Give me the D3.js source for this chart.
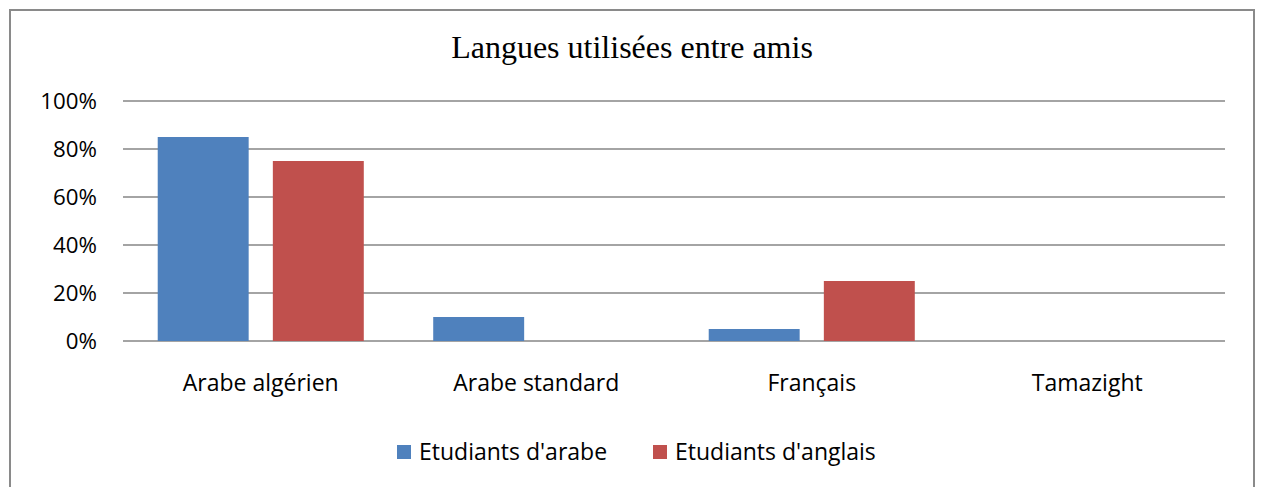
<!DOCTYPE html>
<html><head><meta charset="utf-8">
<script src="https://cdn.jsdelivr.net/npm/d3@7"></script>
<style>body{margin:0;background:#fff}svg{display:block}</style>
</head><body><svg id="c" width="1261" height="487"></svg>
<script>
const categories = ["Arabe algérien", "Arabe standard", "Français", "Tamazight"];
const seriesNames = ["Etudiants d'arabe", "Etudiants d'anglais"];
const etudiantsArabe = [0.85, 0.10, 0.05, 0];
const etudiantsAnglais = [0.75, 0, 0.25, 0];
const yTicks = [0, 0.2, 0.4, 0.6, 0.8, 1.0];
const colors = ["#4f81bd", "#c0504d"];
const title = "Langues utilisées entre amis";

const svg = d3.select("#c");
svg.append("rect").attr("x", 10).attr("y", 10).attr("width", 1244).attr("height", 490)
  .attr("fill", "#fff").attr("stroke", "#8a8a8a").attr("stroke-width", 2);

const mL = 123, mR = 1225, mT = 101, mB = 341;
const x0 = d3.scaleBand().domain(categories).range([mL, mR]).paddingInner(0.252).paddingOuter(0.126);
const x1 = d3.scaleBand().domain(seriesNames).range([0, x0.bandwidth()]).paddingInner(0.21);
const y = d3.scaleLinear().domain([0, 1]).range([mB, mT]);

svg.append("text").attr("x", 632).attr("y", 58).attr("text-anchor", "middle")
  .attr("font-family", "Liberation Serif, Times New Roman, serif").attr("font-size", 32)
  .attr("fill", "#000").text(title);

const yAxis = d3.axisLeft(y).tickValues(yTicks).tickFormat(d3.format(".0%")).tickSize(0).tickPadding(26);
const gy = svg.append("g").attr("transform", `translate(${mL},0)`).call(yAxis);
gy.select(".domain").remove();
gy.selectAll("text").attr("font-family", "Open Sans, sans-serif").attr("font-size", 22.3).attr("fill", "#000");

svg.append("g").selectAll("line").data(yTicks).join("line")
  .attr("x1", mL).attr("x2", mR).attr("y1", d => y(d)).attr("y2", d => y(d))
  .attr("stroke", "#868686").attr("stroke-width", 1.5);

const data = categories.map((c, i) => ({c, vals: [etudiantsArabe[i], etudiantsAnglais[i]]}));
const groups = svg.append("g").selectAll("g").data(data).join("g")
  .attr("transform", d => `translate(${x0(d.c)},0)`);
groups.selectAll("rect").data(d => d.vals.map((v, k) => ({v, k})).filter(e => e.v > 0)).join("rect")
  .attr("x", e => x1(seriesNames[e.k])).attr("width", x1.bandwidth())
  .attr("y", e => y(e.v)).attr("height", e => y(0) - y(e.v))
  .attr("fill", e => colors[e.k]);

const xAxis = d3.axisBottom(x0).tickSize(0).tickPadding(34);
const gx = svg.append("g").attr("transform", `translate(0,${mB})`).call(xAxis);
gx.select(".domain").remove();
gx.selectAll("text").attr("font-family", "Open Sans, sans-serif").attr("font-size", 23).attr("fill", "#000");

const legendX = [397, 653];
const lg = svg.append("g").selectAll("g").data(seriesNames).join("g")
  .attr("transform", (d, i) => `translate(${legendX[i]},445)`);
lg.append("rect").attr("width", 14).attr("height", 14).attr("fill", (d, i) => colors[i]);
lg.append("text").attr("x", 22).attr("y", 15).attr("font-family", "Open Sans, sans-serif")
  .attr("font-size", 23).attr("fill", "#000").text(d => d);
</script></body></html>
